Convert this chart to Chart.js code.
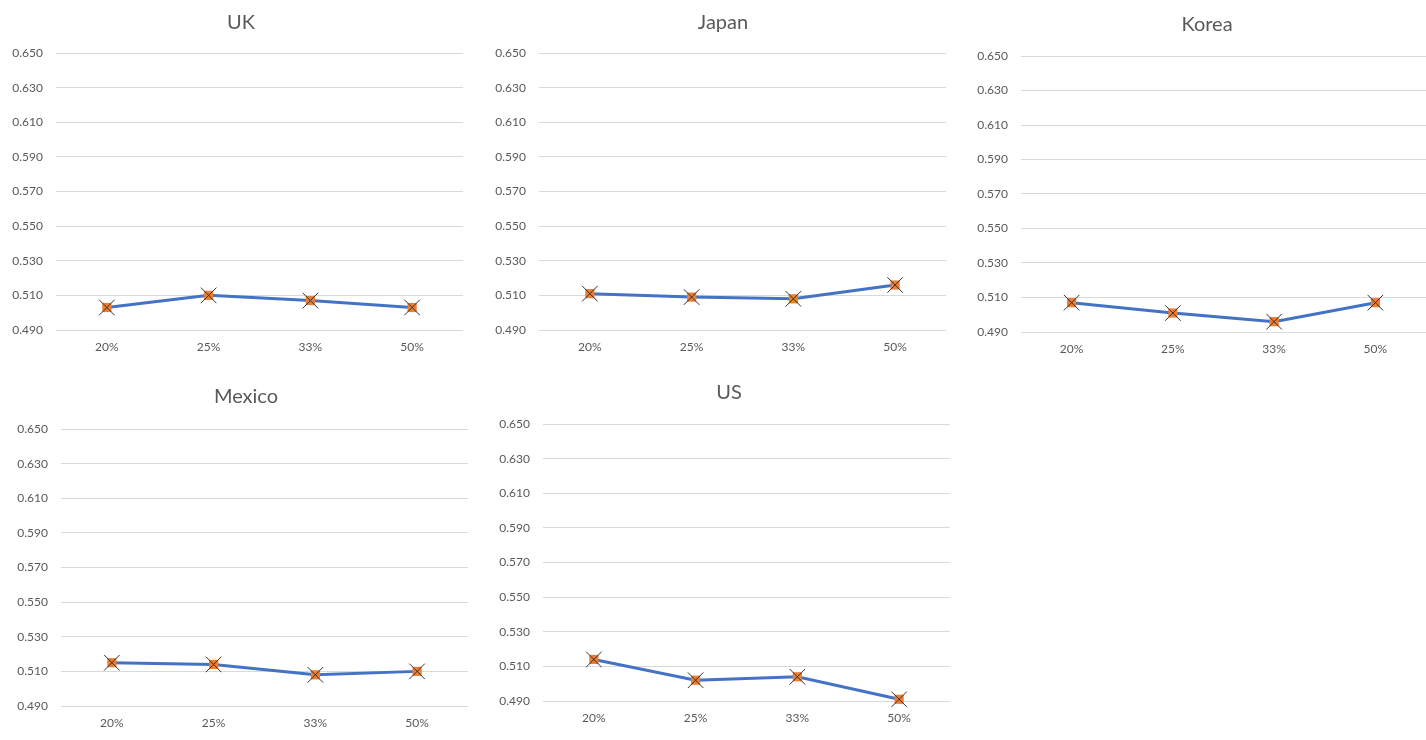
<!DOCTYPE html>
<html>
<head>
<meta charset="utf-8">
<script src="https://cdn.jsdelivr.net/npm/chart.js@4/dist/chart.umd.min.js"></script>
<style>
  html, body { margin: 0; padding: 0; background: #ffffff; }
  body { width: 1426px; height: 740px; position: relative; overflow: hidden; }
  .panel { position: absolute; }
  .panel canvas { display: block; }
</style>
</head>
<body>
<div class="panel" id="p-uk"><canvas id="c-uk"></canvas></div>
<div class="panel" id="p-japan"><canvas id="c-japan"></canvas></div>
<div class="panel" id="p-korea"><canvas id="c-korea"></canvas></div>
<div class="panel" id="p-mexico"><canvas id="c-mexico"></canvas></div>
<div class="panel" id="p-us"><canvas id="c-us"></canvas></div>
<script>
// Share categories along the x axis
const categories = ['20%', '25%', '33%', '50%'];

// Values per country
const ukValues     = [0.503, 0.510, 0.507, 0.503];
const japanValues  = [0.511, 0.509, 0.508, 0.516];
const koreaValues  = [0.507, 0.501, 0.496, 0.507];
const mexicoValues = [0.515, 0.514, 0.508, 0.510];
const usValues     = [0.514, 0.502, 0.504, 0.491];

// Value axis range
const yMin = 0.49;
const yMax = 0.65;
const yStep = 0.02;

const FONT = 'Lato, "Open Sans", sans-serif';
const TEXT = '#595959';
const GRID = '#d9d9d9';
const LINE = '#4472C4';
const MARK = '#ED7D31';
const Y_AXIS_W = 56;
const X_AXIS_H = 30;

// Panel geometry: plot area edges, title centre and the row top
const panels = [
  { id: 'uk',     title: 'UK',     values: ukValues,     l: 56,   r: 463,  t: 53,  b: 330, titleX: 241,  titleY: 23,  top: 0 },
  { id: 'japan',  title: 'Japan',  values: japanValues,  l: 539,  r: 946,  t: 53,  b: 330, titleX: 723,  titleY: 23,  top: 0 },
  { id: 'korea',  title: 'Korea',  values: koreaValues,  l: 1021, r: 1426, t: 56,  b: 332, titleX: 1207, titleY: 25,  top: 0 },
  { id: 'mexico', title: 'Mexico', values: mexicoValues, l: 61,   r: 468,  t: 429, b: 706, titleX: 246,  titleY: 397, top: 370 },
  { id: 'us',     title: 'US',     values: usValues,     l: 543,  r: 950,  t: 424, b: 701, titleX: 729,  titleY: 393, top: 370 }
];

panels.forEach(p => {
  const box = document.getElementById('p-' + p.id);
  const left = p.l - Y_AXIS_W;
  // the title is centred on the canvas, so the canvas spans twice the title offset
  const width = 2 * (p.titleX - left);
  const padRight = left + width - p.r;
  const height = p.b - p.top + X_AXIS_H;
  box.style.left = left + 'px';
  box.style.top = p.top + 'px';
  box.style.width = width + 'px';
  box.style.height = height + 'px';

  const titleLine = 24;
  const padTop = p.titleY - p.top - titleLine / 2;
  const padBottom = (p.t - p.top) - padTop - titleLine;

  new Chart(document.getElementById('c-' + p.id), {
    type: 'line',
    data: {
      labels: categories,
      datasets: [
        {
          // crossed marker drawn on top
          data: p.values,
          showLine: false,
          clip: false,
          pointStyle: 'crossRot',
          pointRadius: 11,
          pointBorderColor: '#333333',
          pointBorderWidth: 1,
          pointBackgroundColor: 'rgba(0,0,0,0)'
        },
        {
          data: p.values,
          clip: false,
          borderColor: LINE,
          borderWidth: 3,
          tension: 0,
          pointStyle: 'rect',
          pointRadius: 6.5,
          pointBackgroundColor: MARK,
          pointBorderColor: MARK,
          pointBorderWidth: 0
        }
      ]
    },
    options: {
      responsive: true,
      maintainAspectRatio: false,
      animation: false,
      events: [],
      layout: { padding: 0 },
      plugins: {
        legend: { display: false },
        tooltip: { enabled: false },
        title: {
          display: true,
          text: p.title,
          color: TEXT,
          font: { family: FONT, size: 20, weight: 'normal', lineHeight: 1.2 },
          padding: { top: padTop, bottom: padBottom }
        }
      },
      scales: {
        x: {
          offset: true,
          grid: { display: false, drawTicks: false },
          border: { display: false },
          ticks: { color: TEXT, font: { family: FONT, size: 12 }, padding: 10, maxRotation: 0 },
          afterFit: s => {
            s.height = X_AXIS_H;
            s.paddingLeft = 0;
            s.paddingRight = padRight;
          }
        },
        y: {
          min: yMin,
          max: yMax,
          grid: { color: GRID, lineWidth: 1, drawTicks: false },
          border: { display: false },
          ticks: {
            stepSize: yStep,
            color: TEXT,
            font: { family: FONT, size: 12 },
            padding: 13,
            callback: v => Number(v).toFixed(3)
          },
          afterFit: s => { s.width = Y_AXIS_W; }
        }
      }
    }
  });
});
</script>
</body>
</html>
